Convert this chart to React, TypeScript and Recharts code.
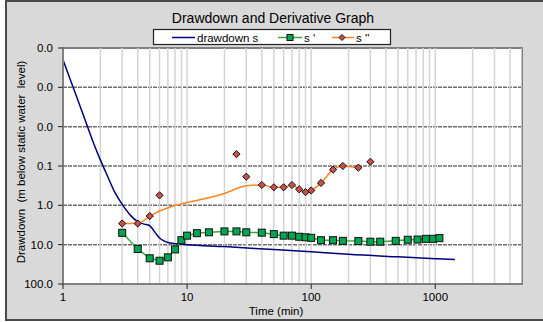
import React from 'react'
import { ComposedChart, Line, XAxis, YAxis, CartesianGrid, ReferenceLine, ReferenceArea } from 'recharts'

// drawdown s (m) against time (min)
const drawdownTime = [1, 1.2, 1.5, 1.8, 2, 2.3, 2.6, 3, 3.5, 4, 4.5, 5, 5.5, 6, 6.5, 7, 8, 10, 20, 50, 100, 200, 500, 1000, 1440]
const drawdownValue = [0.0002, 0.00095, 0.0065, 0.031, 0.07, 0.19, 0.45, 0.95, 1.8, 2.6, 3.0, 3.3, 4.8, 6.8, 8.0, 8.8, 9.5, 10, 11.2, 13.3, 15.1, 17.6, 20.4, 22.7, 24]

// first derivative s'
const sPrimeTime = [3, 4, 5, 6, 7, 8, 9, 10, 12, 15, 20, 25, 30, 40, 50, 60, 70, 80, 90, 100, 120, 150, 180, 240, 300, 360, 480, 600, 720, 840, 960, 1080]
const sPrimeValue = [5.0, 12.9, 22.2, 25.6, 21, 13.2, 7.7, 5.9, 5.1, 4.85, 4.6, 4.6, 4.85, 4.95, 5.4, 5.9, 5.9, 6.3, 6.5, 6.7, 7.7, 7.7, 8.0, 8.1, 8.4, 8.4, 8.0, 7.5, 7.4, 7.1, 7.1, 6.8]

// second derivative s'' (points)
const sDoubleTime = [3, 4, 5, 6, 25, 30, 40, 50, 60, 70, 80, 90, 100, 120, 150, 180, 240, 300]
const sDoubleValue = [2.9, 2.9, 1.87, 0.556, 0.05, 0.187, 0.304, 0.348, 0.348, 0.304, 0.39, 0.46, 0.42, 0.27, 0.124, 0.1, 0.11, 0.078]

// smoothed s'' trend line
const sDoubleTrendTime = [3, 4, 5, 20, 30, 40, 50, 60, 70, 80, 90, 100, 120, 150, 180, 240]
const sDoubleTrendValue = [2.9, 2.9, 1.87, 0.5, 0.32, 0.304, 0.348, 0.348, 0.304, 0.39, 0.46, 0.42, 0.27, 0.124, 0.1, 0.11]

const xTicks = [1, 10, 100, 1000]
const yTicks = [0.0001, 0.001, 0.01, 0.1, 1, 10, 100]

const zip = (ts: number[], vs: number[]) => ts.map((t, i) => ({ t, v: vs[i] }))

const drawdown = zip(drawdownTime, drawdownValue)
const sPrime = zip(sPrimeTime, sPrimeValue)
const sDouble = zip(sDoubleTime, sDoubleValue)
const sDoubleTrend = zip(sDoubleTrendTime, sDoubleTrendValue)

// light vertical grid at every 1..9 x 10^n up to the axis max
const minorX: number[] = []
for (const d of [1, 10, 100, 1000]) {
  for (let k = 1; k <= 9; k++) {
    const x = k * d
    if (x > 1 && x <= 5000) minorX.push(x)
  }
}

const FONT = '"Liberation Sans", Arial, sans-serif'
const GREEN = '#00a650'
const RED = '#c8504a'
const ORANGE = '#f7861e'
const NAVY = '#000080'

const Square = (props: any) => {
  const { cx, cy, index } = props
  if (cx == null || cy == null) return null
  return <rect key={`sq-${index}`} x={cx - 3.5} y={cy - 3.5} width={7} height={7} fill={GREEN} stroke="#111" strokeWidth={1} />
}

const Diamond = (props: any) => {
  const { cx, cy, index } = props
  if (cx == null || cy == null) return null
  const r = 3.6
  return (
    <polygon
      key={`dm-${index}`}
      points={`${cx},${cy - r} ${cx + r},${cy} ${cx},${cy + r} ${cx - r},${cy}`}
      fill={RED}
      stroke="#111"
      strokeWidth={1}
    />
  )
}

const Overlay = () => (
  <svg width={543} height={322} style={{ position: 'absolute', left: 0, top: 0, pointerEvents: 'none' }} fontFamily={FONT}>
    <text x={273} y={23} textAnchor="middle" fontSize={14} fill="#000">
      Drawdown and Derivative Graph
    </text>
    <rect x={153.5} y={29.5} width={237} height={15} fill="#fff" stroke="#222" strokeWidth={1.2} />
    <line x1={172} x2={195} y1={37.5} y2={37.5} stroke={NAVY} strokeWidth={1.5} />
    <text x={197} y={41.5} fontSize={11.5} fill="#000">drawdown s</text>
    <line x1={278} x2={302} y1={37.5} y2={37.5} stroke="#3aa83a" strokeWidth={1.5} />
    <rect x={287} y={34.5} width={6} height={6} fill={GREEN} stroke="#111" strokeWidth={1} />
    <text x={304} y={41.5} fontSize={11.5} fill="#000" style={{ whiteSpace: 'pre' }}>s '</text>
    <line x1={332} x2={354} y1={37.5} y2={37.5} stroke={ORANGE} strokeWidth={1.5} />
    <polygon points="342,34.5 345,37.5 342,40.5 339,37.5" fill={RED} stroke="#111" strokeWidth={1} />
    <text x={356} y={41.5} fontSize={11.5} fill="#000" style={{ whiteSpace: 'pre' }}>s ''</text>
    <text
      transform="translate(25,162) rotate(-90)"
      textAnchor="middle"
      fontSize={11.5}
      fill="#000"
      style={{ whiteSpace: 'pre' }}
    >
      {'Drawdown  (m below static water  level)'}
    </text>
    <text x={276} y={315} textAnchor="middle" fontSize={11.5} fill="#000">
      Time (min)
    </text>
  </svg>
)

export default function App() {
  return (
    <div style={{ position: 'absolute', left: 0, top: 0, width: 543, height: 322, background: '#fff', overflow: 'hidden' }}>
      <div
        style={{
          position: 'absolute',
          left: 5,
          top: 0,
          width: 545,
          height: 321,
          background: '#d9d9d9',
          border: '2px solid #4a4a4a',
          boxSizing: 'border-box',
        }}
      />
      <div style={{ position: 'absolute', left: 0, top: 0 }}>
        <ComposedChart width={543} height={322} margin={{ top: 48, right: 21, bottom: 8, left: 0 }}>
          <CartesianGrid horizontal={false} vertical={false} fill="#fff" />
          {minorX.map((x) => (
            <ReferenceLine key={`gx-${x}`} x={x} stroke="#d4d4d4" strokeWidth={1.5} ifOverflow="hidden" />
          ))}
          <CartesianGrid vertical={false} stroke="#6e6e6e" strokeWidth={1.5} strokeDasharray="4 1" />
          <ReferenceArea x1={1} x2={5000} y1={0.0001} y2={100} fill="none" stroke="#808080" strokeWidth={2} />
          <XAxis
            type="number"
            dataKey="t"
            scale="log"
            domain={[1, 5000]}
            allowDataOverflow
            ticks={xTicks}
            height={30}
            tickSize={5}
            tickMargin={4}
            axisLine={{ stroke: '#808080', strokeWidth: 2 }}
            tickLine={{ stroke: '#222' }}
            tick={{ fill: '#000', fontSize: 11.5, fontFamily: FONT }}
          />
          <YAxis
            type="number"
            dataKey="v"
            scale="log"
            domain={[0.0001, 100]}
            allowDataOverflow
            reversed
            ticks={yTicks}
            width={63}
            tickSize={5}
            tickMargin={5}
            tickFormatter={(v: number) => v.toFixed(1)}
            axisLine={{ stroke: '#808080', strokeWidth: 2 }}
            tickLine={{ stroke: '#222' }}
            tick={{ fill: '#000', fontSize: 11.5, fontFamily: FONT }}
          />
          <Line data={drawdown} dataKey="v" type="monotone" stroke={NAVY} strokeWidth={1.5} dot={false} isAnimationActive={false} />
          <Line data={sDoubleTrend} dataKey="v" type="monotone" stroke={ORANGE} strokeWidth={1.5} dot={false} isAnimationActive={false} />
          <Line data={sPrime} dataKey="v" type="linear" stroke="#3aa83a" strokeWidth={1.5} dot={Square} isAnimationActive={false} />
          <Line data={sDouble} dataKey="v" stroke="none" dot={Diamond} isAnimationActive={false} />
        </ComposedChart>
      </div>
      <Overlay />
    </div>
  )
}
